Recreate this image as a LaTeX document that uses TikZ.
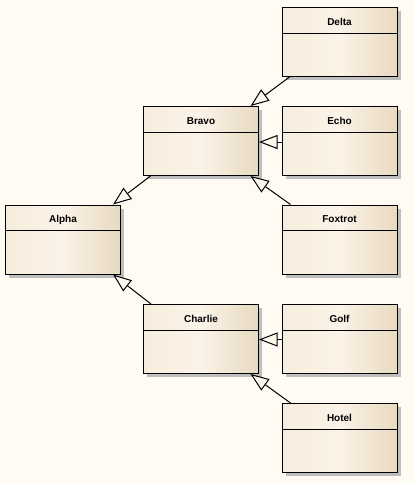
\documentclass[tikz,border=0pt]{standalone}
\usepackage{fontspec}
\setmainfont{Liberation Sans}
\usetikzlibrary{arrows.meta,shadows}
\definecolor{bgc}{RGB}{255,251,243}
\definecolor{gl}{RGB}{247,237,221}
\definecolor{gm}{RGB}{251,243,232}
\definecolor{gr}{RGB}{232,217,192}
\definecolor{shd}{RGB}{190,190,190}
\definecolor{tipfill}{RGB}{253,248,238}
\tikzset{
  cls/.style={draw=black, line width=1pt, minimum width=115pt, minimum height=69pt, inner sep=0pt,
    left color=gl, right color=gr, middle color=gm,
    drop shadow={shadow xshift=3.5pt, shadow yshift=-3.5pt, fill=shd, opacity=1}},
  ttl/.style={font=\bfseries\fontsize{10}{12}\selectfont, inner sep=0pt},
  gen/.style={draw=black, line width=1pt, -{Triangle[open, length=18.5pt, width=14pt, fill=tipfill]}}
}
\newcommand{\umlclass}[3]{%
  \node[cls] (#1) at (#2) {};
  \draw[line width=1pt] ([yshift=-26pt]#1.north west) -- ([yshift=-26pt]#1.north east);
  \node[ttl] (#1t) at ([yshift=-15pt]#1.north) {#3};
}
\begin{document}
\begin{tikzpicture}[x=1pt,y=-1pt]
\fill[bgc] (0,0) rectangle (413,483);
\useasboundingbox (0,0) rectangle (413,483);
\umlclass{delta}{339.5,42}{Delta}
\umlclass{bravo}{201,141}{Bravo}
\umlclass{echo}{339.5,141}{Echo}
\umlclass{alpha}{63,239.5}{Alpha}
\umlclass{foxtrot}{339.5,239.5}{Foxtrot}
\umlclass{charlie}{201,339}{Charlie}
\umlclass{golf}{339.5,339}{Golf}
\umlclass{hotel}{339.5,438}{Hotel}
\draw[gen] ([xshift=8pt]delta.south west) -- ([xshift=-8.5pt]bravo.north east);
\draw[gen] ([yshift=-1pt]echo.west) -- ([yshift=-1pt]bravo.east);
\draw[gen] ([xshift=9pt]foxtrot.north west) -- ([xshift=-8.5pt]bravo.south east);
\draw[gen] ([xshift=7.5pt]bravo.south west) -- ([xshift=-8pt]alpha.north east);
\draw[gen] ([xshift=8pt]charlie.north west) -- ([xshift=-8pt]alpha.south east);
\draw[gen] ([yshift=-0.5pt]golf.west) -- ([yshift=-0.5pt]charlie.east);
\draw[gen] ([xshift=9pt]hotel.north west) -- ([xshift=-8.5pt]charlie.south east);
\end{tikzpicture}
\end{document}
